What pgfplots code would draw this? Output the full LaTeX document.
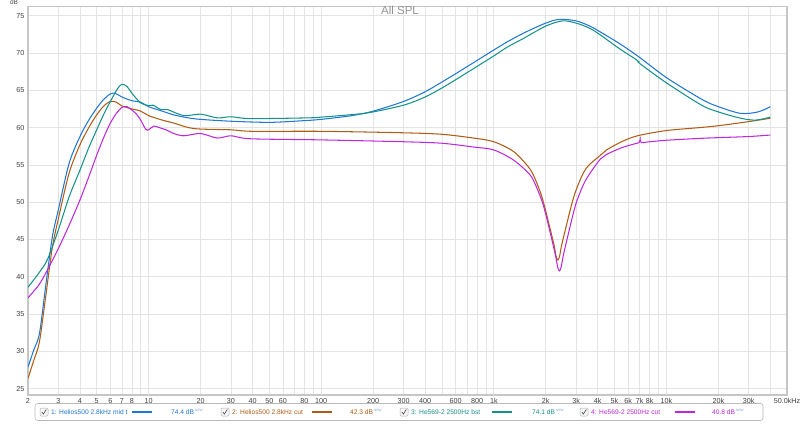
\documentclass[border=0pt]{standalone}
\usepackage{pgfplots}
\pgfplotsset{compat=1.18}
\usepackage{fontspec}
\setmainfont{Liberation Sans}

\definecolor{c1}{RGB}{31,119,214}
\definecolor{c2}{RGB}{176,92,20}
\definecolor{c3}{RGB}{22,146,140}
\definecolor{c4}{RGB}{190,40,220}
\definecolor{newc}{RGB}{120,160,230}

\newcommand{\legfont}{\fontsize{6.65}{7.5}\selectfont}
\newcommand{\newtag}{\raisebox{0.75ex}{\fontsize{3.2}{4}\selectfont\color{newc}NEW}}

\begin{document}
\begin{tikzpicture}
\useasboundingbox (0,0) rectangle (800pt,423pt);
\begin{axis}[
  at={(28pt,28pt)}, anchor=south west,
  scale only axis, width=759pt, height=388.3pt,
  xmode=log, log basis x=10,
  xmin=2, xmax=50000, ymin=24.16, ymax=76.2,
  xtick={2,3,4,5,6,7,8,9,10,20,30,40,50,60,70,80,90,100,200,300,400,500,600,700,800,900,1000,2000,3000,4000,5000,6000,7000,8000,9000,10000,20000,30000,40000,50000},
  xticklabels={2,3,4,5,6,7,8,,10,20,30,40,50,60,,80,,100,200,300,400,,600,,800,,1k,2k,3k,4k,5k,6k,7k,8k,,10k,20k,30k,,50.0kHz},
  ytick={25,30,35,40,45,50,55,60,65,70,75},
  grid=major,
  major grid style={gray!22, line width=0.7pt},
  extra x ticks={10,100,1000,10000}, extra x tick labels={},
  extra x tick style={grid style={gray!55,line width=0.9pt}},
  major tick length=0pt,
  axis line style={gray!45, line width=1.3pt},
  tick label style={font=\fontsize{7.2}{8}\selectfont, text=black!75},
  /pgf/number format/assume math mode=true,
  title={All SPL},
  title style={at={(axis description cs:0.4901,1)}, anchor=north, yshift=-1.5pt, font=\fontsize{11.5}{13}\selectfont, text=gray!85},
  ylabel={dB},
  ylabel style={at={(axis description cs:-0.0184,1.012)}, anchor=center, rotate=-90, font=\fontsize{6.5}{7}\selectfont, text=black!70},
  every axis plot/.append style={line width=1.05pt, smooth},
]
\addplot[c1] coordinates {(2,27.9)(2.16,30.2)(2.33,32.4)(2.53,38.7)(2.77,45.4)(3,49.0)(3.46,55.2)(4,58.8)(4.5,61.0)(5,62.6)(5.5,63.8)(6,64.5)(6.4,64.6)(7,64.1)(8,63.6)(9,63.4)(10,62.8)(12,62.2)(14,61.7)(17,61.3)(20,61.1)(30,60.85)(50,60.7)(76,60.9)(100,61.1)(150,61.6)(200,62.2)(300,63.5)(400,64.8)(500,66.1)(600,67.2)(800,69.0)(1000,70.4)(1200,71.5)(1500,72.7)(2000,74.0)(2400,74.5)(3000,74.3)(3600,73.6)(4150,72.8)(5400,71.2)(7000,69.4)(10000,66.7)(16000,63.8)(20000,62.8)(27000,61.9)(34000,62.1)(40000,62.8)};
\addplot[c2] coordinates {(2,26.4)(2.16,28.8)(2.33,31.3)(2.53,37.3)(2.77,44.0)(3,47.8)(3.46,53.9)(4,57.7)(4.5,60.0)(5,61.7)(5.5,62.9)(6,63.5)(6.5,63.4)(7,62.9)(8,62.5)(9,62.2)(10,61.6)(12,61.0)(14,60.6)(17,60.0)(20,59.8)(30,59.7)(40,59.5)(100,59.5)(300,59.3)(500,59.1)(760,58.6)(1000,58.1)(1300,56.8)(1571,54.85)(1702,53.55)(1867,51.25)(1977,49.25)(2119,46.45)(2234,44.25)(2296,42.75)(2350,42.25)(2405,42.75)(2472,44.25)(2607,46.45)(2793,49.25)(2958,51.25)(3244,53.55)(3516,54.85)(4150,56.3)(4500,57.0)(5500,58.1)(6800,58.9)(10000,59.6)(15600,60.0)(20000,60.25)(30000,60.8)(40000,61.25)};
\addplot[c3] coordinates {(2,38.6)(2.31,40.5)(2.59,42.3)(3,46.3)(3.46,50.7)(4,54.3)(4.5,57.3)(5,59.7)(5.5,61.8)(6,63.5)(6.6,65.2)(7,65.8)(7.5,65.5)(8,64.6)(9,63.3)(10,62.95)(10.6,63.0)(11.8,62.4)(12.9,62.4)(16,61.6)(20,61.8)(25,61.3)(30,61.45)(39,61.2)(83,61.3)(100,61.4)(162,61.8)(200,62.1)(300,63.0)(400,64.1)(500,65.3)(600,66.4)(800,68.2)(1000,69.6)(1200,70.8)(1500,72.0)(2000,73.6)(2500,74.3)(3000,74.0)(3600,73.3)(4150,72.4)(5400,70.5)(6500,69.3)(6900,68.85)(7000,68.6)(10000,66.0)(16000,63.0)(20000,62.1)(27000,61.25)(33000,61.0)(40000,61.4)};
\addplot[c4] coordinates {(2,37.2)(2.31,38.9)(2.59,40.9)(3,43.8)(3.46,46.9)(4,50.3)(4.5,53.4)(5,56.3)(5.5,58.7)(6,60.6)(6.5,61.9)(7,62.7)(7.5,62.8)(8,62.35)(8.5,61.8)(9,61.0)(9.6,59.8)(10,59.7)(10.7,60.2)(11.5,60.0)(12.6,59.7)(14,59.2)(16,58.9)(20,59.2)(25,58.6)(30,58.9)(39,58.5)(100,58.35)(300,58.1)(500,57.9)(760,57.4)(1000,57.0)(1300,55.65)(1604,53.8)(1739,52.4)(1906,50.1)(2019,48.0)(2164,45.1)(2281,42.8)(2345,41.3)(2400,40.8)(2456,41.3)(2525,42.8)(2662,45.1)(2852,48.0)(3021,50.1)(3313,52.4)(3591,53.8)(4150,55.8)(4500,56.4)(5500,57.3)(6500,57.8)(6950,58.0)(7050,58.45)(7150,58.0)(8000,58.1)(10000,58.3)(15600,58.55)(20000,58.65)(30000,58.8)(40000,59.0)};
\end{axis}
% legend
\draw[gray!55, line width=0.6pt, rounded corners=2.5pt, fill=white] (35pt,2.5pt) rectangle (763pt,19.5pt);
\foreach \x/\lx/\vx/\col/\lab/\val in {
  40/132/171/c1/{1: Helios500 2.8kHz mid t}/74.4,
  221/312/350/c2/{2: Helios500 2.8kHz cut}/42.3,
  400/492/532/c3/{3: He569-2 2500Hz bst}/74.1,
  580/675/712/c4/{4: He569-2 2500Hz cut}/40.8}{
  \draw[gray!60, fill=gray!6, rounded corners=1.3pt, line width=0.5pt] (\x pt,7pt) rectangle ++(8pt,8pt);
  \draw[black!75, line width=0.6pt] (\x pt+1.8pt,11pt) -- (\x pt+3.4pt,9pt) -- (\x pt+6.3pt,13.5pt);
  \node[anchor=west, inner sep=0pt, text=\col, font=\legfont] at (\x pt+11pt,11pt) {\lab};
  \draw[\col, line width=1.6pt] (\lx pt,11pt) -- ++(20pt,0);
  \node[anchor=west, inner sep=0pt, text=\col, font=\legfont] at (\vx pt,11pt) {\val\ dB\,\newtag};
}
\end{tikzpicture}
\end{document}
